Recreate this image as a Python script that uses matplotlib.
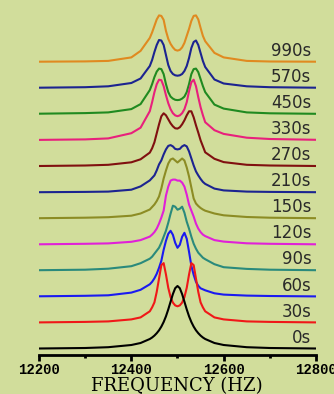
import matplotlib
matplotlib.use("Agg")
import matplotlib.pyplot as plt
from matplotlib.ticker import MultipleLocator

# Frequency grid (Hz) shared by all traces
freq = [12200, 12300, 12350, 12400, 12420, 12440, 12445, 12450, 12455, 12460,
        12465, 12470, 12475, 12480, 12485, 12490, 12495, 12500, 12505, 12510,
        12515, 12520, 12525, 12530, 12535, 12540, 12545, 12550, 12555, 12560,
        12580, 12600, 12650, 12700, 12800]

# Trace labels (bottom to top)
labels = ["0s", "30s", "60s", "90s", "120s", "150s", "210s", "270s",
          "330s", "450s", "570s", "990s"]

# Intensities (arbitrary units)
s0 = [0.5, 1, 1.8, 4, 6, 10, 11.5, 13.4, 15.8, 18.7, 22.4, 27, 32.7, 39.6, 47.3,
      54.9, 60.8, 63, 60.8, 54.9, 47.3, 39.6, 32.7, 27, 22.4, 18.7, 15.8, 13.4,
      11.5, 10, 6, 4, 1.8, 1, 0.5]
s30 = [0.5, 1.0, 1.5, 3.5, 5.5, 11.6, 15.5, 20.5, 31.0, 44.4, 57.8, 59.8, 48.4,
       35.1, 25.8, 20.3, 17.5, 16.6, 17.5, 20.3, 25.8, 35.1, 48.4, 59.8, 57.8,
       44.4, 31.0, 20.5, 15.5, 11.6, 5.5, 3.5, 1.5, 1.0, 0.5]
s60 = [0.5, 1.0, 1.5, 4.2, 7, 12.5, 15, 18.5, 23, 29, 36, 47, 56, 63, 66, 62,
       54, 49, 52, 60, 64, 58, 45, 31, 22, 15, 11, 8.5, 7.5, 6.5, 3.5, 2.2, 1.2,
       0.8, 0.4]
s90 = [0.5, 1.0, 2.0, 4.5, 7.5, 12, 14, 17, 20, 23, 28, 34, 40, 48, 57, 65, 64,
       61, 62, 64, 58, 49, 42, 34, 27, 22, 18, 15.5, 13, 11.5, 6.5, 3.5, 1.8,
       1.0, 0.5]
s120 = [0.3, 0.8, 1.2, 2.8, 4.5, 8, 10, 12.5, 16, 21, 27, 34, 49, 58, 64, 65,
        65, 64, 64, 62, 58, 50, 40, 34, 28, 21, 16, 12.5, 10, 8.5, 4.5, 3, 1.3,
        0.8, 0.3]
s150 = [0.3, 0.8, 1.3, 2.8, 5, 9, 11.5, 14, 17.5, 22, 30, 40, 48, 55, 59, 60,
        58, 56, 58, 60, 58, 51, 42, 31, 20, 15, 12.5, 10.5, 9, 7.8, 5, 3.2, 1.5,
        0.8, 0.3]
s210 = [0.2, 0.5, 0.8, 2.7, 6, 12, 14.5, 17, 22, 28, 32, 38, 43, 46.5, 47.3,
        46, 43.5, 43, 43.5, 46, 47.3, 46, 41, 34, 27, 21, 17, 13.5, 10.5, 8.5,
        3.8, 2, 0.8, 0.5, 0.2]
s270 = [0.3, 0.8, 1.5, 4, 7, 13.7, 18, 24, 33, 42, 50, 53, 51, 47, 43, 40, 38,
        37.7, 39, 42, 46, 51, 55, 55, 49, 41, 33.7, 26, 20, 14, 7.5, 4.2, 1.5,
        0.8, 0.3]
s330 = [0.3, 0.8, 1.8, 7, 12.5, 29, 38, 48, 56, 60.5, 60, 54, 45, 37, 31, 27,
        24.8, 24, 24.8, 27, 31, 38, 49, 58, 60.5, 54, 43, 33, 25, 18, 10, 6.3,
        2.5, 1.2, 0.4]
s450 = [0.4, 1.0, 1.7, 5, 10, 24, 30, 37, 42.5, 45.5, 45, 40, 30, 22, 17.5,
        15.5, 14.3, 14, 14.3, 15.5, 17.5, 22, 30, 40, 45, 45.5, 42, 35, 28, 22,
        9.5, 5.5, 1.7, 0.8, 0.3]
s570 = [0.3, 0.8, 1.7, 5, 9.5, 22, 28, 36, 43, 48, 47.5, 43, 33, 23, 17, 14,
        12.7, 12.3, 12.7, 14, 17, 22, 30, 40, 46, 47.5, 43, 35, 27, 21, 8.5, 4.5,
        1.7, 0.8, 0.3]
s990 = [0.2, 0.5, 1.0, 4.5, 11, 24, 29.5, 36, 42.5, 46.5, 46, 42, 31, 23, 18,
        14.5, 12, 11.3, 12, 14.5, 19, 26, 33, 41, 46, 46.5, 42.5, 34, 26, 20.7,
        9, 4.5, 1, 0.4, 0.2]

series = [s0, s30, s60, s90, s120, s150, s210, s270, s330, s450, s570, s990]
colors = ["#000000", "#f01818", "#1a1af0", "#2a8a7c", "#e020d8", "#8c8c24",
          "#1c2490", "#801010", "#e8207c", "#208a20", "#1c2490", "#e08a20"]

tick_vals = [12200, 12400, 12600, 12800]
tick_text = ["12200", "12400", "12600", "12800"]

bg = "#d1dd9b"
W, H = 334, 394
fig = plt.figure(figsize=(W / 100, H / 100), dpi=100, facecolor=bg)
ax = fig.add_axes([39 / W, (H - 355) / H, 277 / W, 355 / H])
ax.set_facecolor(bg)

spacing = 26.1
n = len(series)
for i, (vals, col, lab) in enumerate(zip(series, colors, labels)):
    off = i * spacing
    ax.plot(freq, [v + off for v in vals], color=col, lw=1.5,
            zorder=10 + (n - i))
    ax.text(12790, off + 2.2, lab, ha="right", va="bottom",
            fontsize=12, color="#2a2a2a", family="DejaVu Sans", zorder=30)

ax.set_xlim(12200, 12800)
ax.set_ylim(-6, 349)
for side in ("left", "right", "top"):
    ax.spines[side].set_visible(False)
ax.spines["bottom"].set_linewidth(2.0)
ax.spines["bottom"].set_color("black")
ax.set_yticks([])
ax.set_xticks(tick_vals)
ax.set_xticklabels(tick_text, family="Liberation Mono", fontsize=10,
                   fontweight="bold", color="black")
ax.xaxis.set_minor_locator(MultipleLocator(100))
ax.tick_params(axis="x", which="major", direction="out", length=4, width=2,
               pad=1.5, color="black")
ax.tick_params(axis="x", which="minor", direction="out", length=2, width=2,
               color="black")

fig.text(176.5 / W, (H - 386) / H, "FREQUENCY (HZ)", ha="center", va="center",
         family="DejaVu Serif", fontsize=13, color="black")

fig.savefig("out.png", dpi=100, facecolor=bg)
